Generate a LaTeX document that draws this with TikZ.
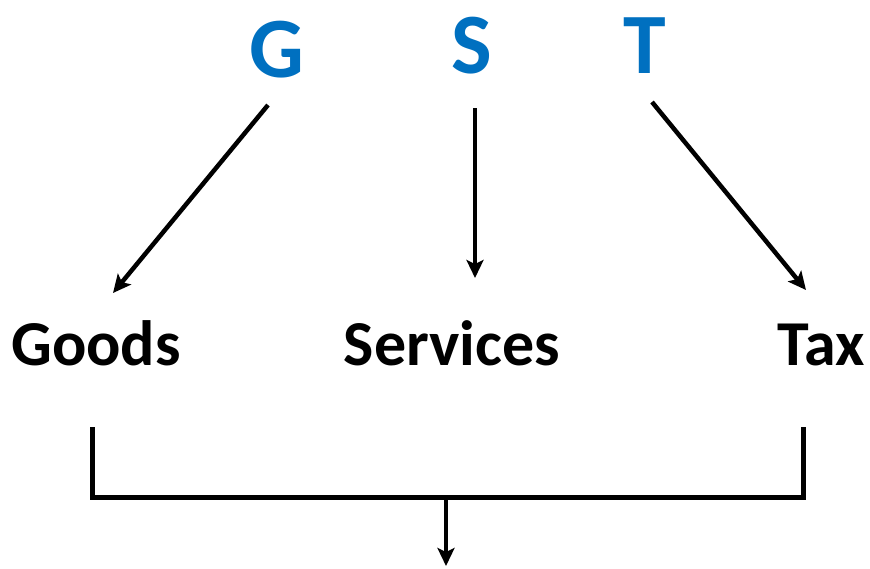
\documentclass[tikz,border=0pt]{standalone}
\usepackage{fontspec}
\setmainfont{Carlito}
\usetikzlibrary{arrows.meta}
\definecolor{gstblue}{HTML}{0070C0}
\begin{document}
\begin{tikzpicture}[x=1pt,y=-1pt,
  letter/.style={font=\bfseries\fontsize{86}{90}\selectfont, text=gstblue, anchor=base, inner sep=0pt},
  word/.style={font=\bfseries\fontsize{64}{70}\selectfont, text=black, anchor=base, inner sep=0pt},
  arr/.style={line width=4.5pt, -{Stealth[length=18pt,width=17pt,inset=4pt]}},
  bar/.style={line width=5pt}]
\useasboundingbox (0,0) rectangle (870,568);
\node[letter] (G) at (277,77) {G};
\node[letter] (S) at (472,73) {S};
\node[letter] (T) at (645,73) {T};
\node[word] (goods) at (96,365) {Goods};
\node[word] (services) at (452,365) {Services};
\node[word] (tax) at (821,365) {Tax};
\coordinate (g1) at (268,105);
\coordinate (g2) at (113,293);
\coordinate (s1) at (475,108);
\coordinate (s2) at (475,278);
\coordinate (t1) at (652,102);
\coordinate (t2) at (806,290);
\draw[arr] (g1) -- (g2);
\draw[arr] (s1) -- (s2);
\draw[arr] (t1) -- (t2);
\coordinate (bl) at (92,427);
\coordinate (br) at (803,427);
\coordinate (bm) at (446,497);
\coordinate (out) at (446,566);
\draw[bar, line join=miter] (bl) |- (br |- bm) -- (br);
\draw[arr] (bm) -- (out);
\end{tikzpicture}
\end{document}
